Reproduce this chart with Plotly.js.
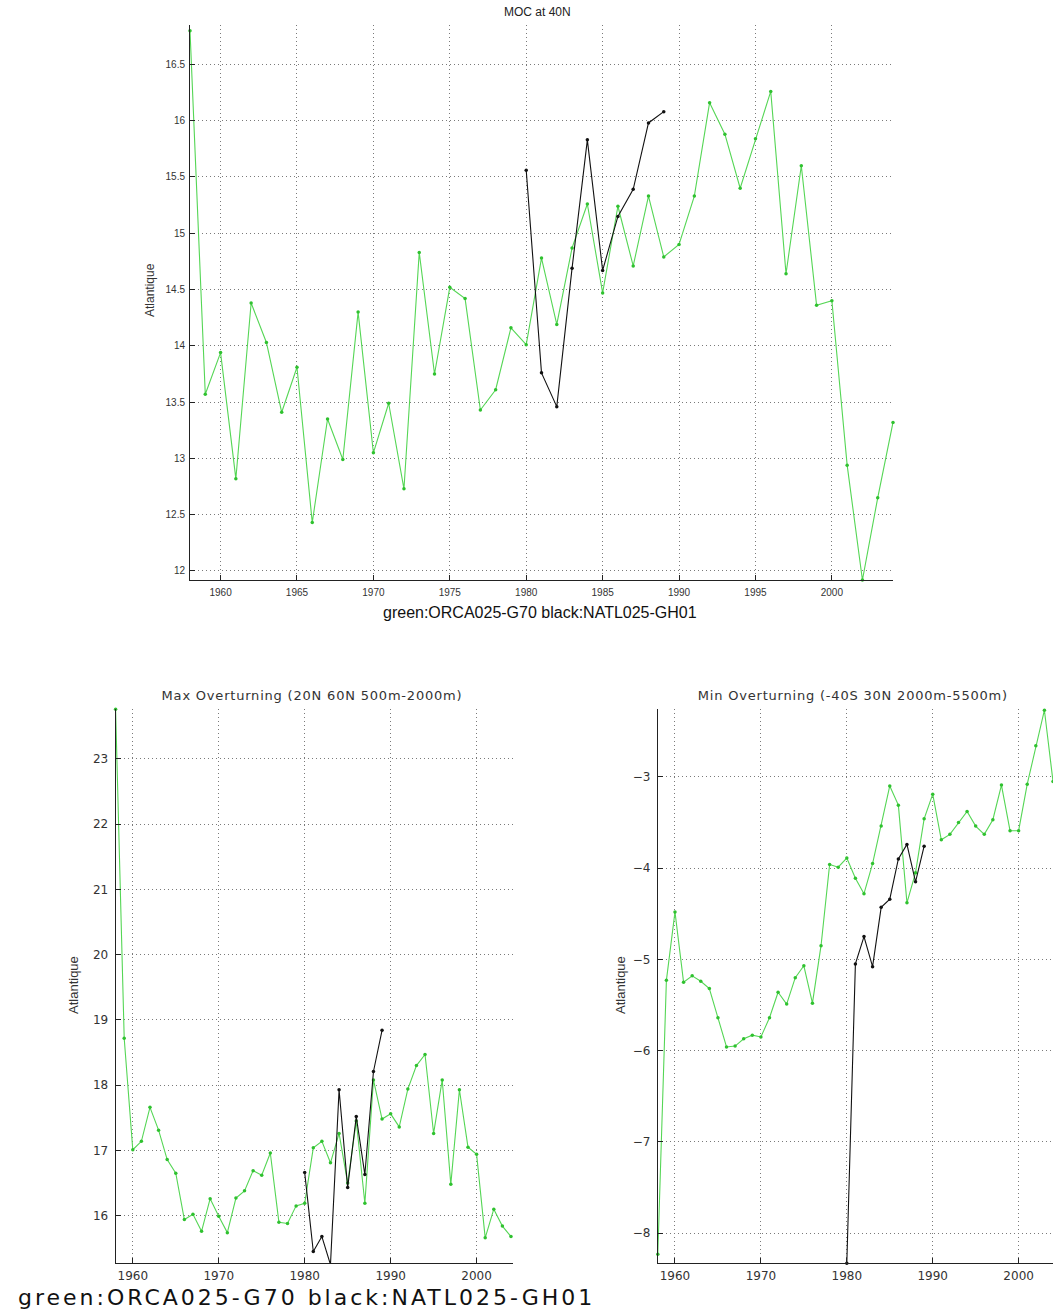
<!DOCTYPE html>
<html>
<head>
<meta charset="utf-8">
<script src="https://cdn.plot.ly/plotly-3.0.1.min.js"></script>
<style>
html,body{margin:0;padding:0;background:#fff;}
#chart{width:1053px;height:1312px;}
g.annotation[data-index="7"] text{letter-spacing:3px;}
g.annotation[data-index="3"] text, g.annotation[data-index="4"] text{letter-spacing:0.8px;}
</style>
</head>
<body>
<div id="chart"></div>
<script>
const years = [1958,1959,1960,1961,1962,1963,1964,1965,1966,1967,1968,1969,1970,1971,1972,1973,1974,1975,1976,1977,1978,1979,1980,1981,1982,1983,1984,1985,1986,1987,1988,1989,1990,1991,1992,1993,1994,1995,1996,1997,1998,1999,2000,2001,2002,2003,2004];
const natlYears = [1980,1981,1982,1983,1984,1985,1986,1987,1988,1989];

const moc40Green = [16.80,13.57,13.94,12.82,14.38,14.03,13.41,13.81,12.43,13.35,12.99,14.30,13.05,13.49,12.73,14.83,13.75,14.52,14.42,13.43,13.61,14.16,14.01,14.78,14.19,14.87,15.26,14.47,15.24,14.71,15.33,14.79,14.90,15.33,16.16,15.88,15.40,15.84,16.26,14.64,15.60,14.36,14.40,12.94,11.92,12.65,13.32];
const moc40Black = [15.56,13.76,13.46,14.69,15.83,14.67,15.15,15.39,15.98,16.08];

const maxGreen = [23.76,18.72,17.01,17.14,17.66,17.31,16.86,16.65,15.94,16.02,15.76,16.26,15.99,15.74,16.27,16.38,16.69,16.62,16.96,15.90,15.88,16.15,16.19,17.04,17.14,16.81,17.26,16.50,17.45,16.19,18.08,17.48,17.56,17.36,17.94,18.30,18.47,17.26,18.08,16.48,17.93,17.05,16.94,15.66,16.10,15.84,15.68];
const maxBlack = [16.66,15.45,15.68,15.25,17.93,16.43,17.52,16.63,18.21,18.84];

const minGreen = [-8.23,-5.23,-4.48,-5.25,-5.18,-5.24,-5.32,-5.64,-5.96,-5.95,-5.87,-5.83,-5.85,-5.64,-5.36,-5.49,-5.20,-5.07,-5.48,-4.85,-3.96,-3.99,-3.89,-4.11,-4.28,-3.95,-3.54,-3.10,-3.31,-4.38,-4.05,-3.46,-3.19,-3.69,-3.63,-3.50,-3.38,-3.54,-3.63,-3.47,-3.09,-3.59,-3.59,-3.08,-2.66,-2.27,-3.05];
const minBlack = [-8.33,-5.05,-4.75,-5.08,-4.43,-4.34,-3.90,-3.74,-4.15,-3.76];

const titles = ["MOC at 40N","Max Overturning (20N 60N 500m-2000m)","Min Overturning (-40S 30N 2000m-5500m)"];
const xLabel = "green:ORCA025-G70 black:NATL025-GH01";
const yLabel = "Atlantique";

const GREEN = '#55d655', GREEN_M = '#2fc12f', BLACK = '#111111';
function tr(x, y, color, mcolor, xa, ya) {
  return {x: x, y: y, xaxis: xa, yaxis: ya, type: 'scatter', mode: 'lines+markers',
    line: {color: color, width: 1.1}, marker: {color: mcolor, size: 3.5, symbol: 'circle'},
    cliponaxis: false, showlegend: false, hoverinfo: 'skip'};
}
const data = [
  tr(years, moc40Green, GREEN, GREEN_M, 'x', 'y'),
  tr(natlYears, moc40Black, BLACK, BLACK, 'x', 'y'),
  tr(years, maxGreen, GREEN, GREEN_M, 'x2', 'y2'),
  tr(natlYears, maxBlack, BLACK, BLACK, 'x2', 'y2'),
  tr(years, minGreen, GREEN, GREEN_M, 'x3', 'y3'),
  tr(natlYears, minBlack, BLACK, BLACK, 'x3', 'y3')
];

function ax(extra, font) {
  return Object.assign({
    showline: true, linecolor: '#222', linewidth: 1, mirror: false,
    ticks: 'inside', ticklen: 5, tickcolor: '#222', tickwidth: 1,
    showgrid: true, gridcolor: '#7a7a7a', griddash: '1px,3px', gridwidth: 1,
    zeroline: false, tickfont: font, fixedrange: true
  }, extra);
}
const W = 1053, H = 1312;
const fTop = {family: 'Liberation Sans, Arial, sans-serif', size: 10, color: '#333'};
const fBot = {family: 'DejaVu Sans, sans-serif', size: 12, color: '#333'};

const layout = {
  width: W, height: H, margin: {l: 0, r: 0, t: 0, b: 0},
  paper_bgcolor: '#fff', plot_bgcolor: '#fff',
  xaxis: ax({domain: [190/W, 893/W], range: [1958, 2004], dtick: 5, tick0: 1960, anchor: 'y', ticklabelstandoff: 3}, fTop),
  yaxis: ax({domain: [1-580/H, 1-25/H], range: [11.92, 16.85], dtick: 0.5, tick0: 12, anchor: 'x', ticklabelstandoff: 2}, fTop),
  xaxis2: ax({domain: [115.6/W, 512.7/W], range: [1958, 2004.2], dtick: 10, tick0: 1960, anchor: 'y2', ticklabelstandoff: 1}, fBot),
  yaxis2: ax({domain: [1-1263.3/H, 1-709.3/H], range: [15.27, 23.76], dtick: 1, tick0: 16, anchor: 'x2', ticklabelstandoff: 4}, fBot),
  xaxis3: ax({domain: [657.8/W, 1], range: [1958, 2004], dtick: 10, tick0: 1960, anchor: 'y3', ticklabelstandoff: 1}, fBot),
  yaxis3: ax({domain: [1-1263.3/H, 1-709.3/H], range: [-8.33, -2.26], dtick: 1, tick0: -8, anchor: 'x3', ticklabelstandoff: 4}, fBot),
  annotations: [
    {text: titles[0], x: 537/W, y: 1-12/H, xref: 'paper', yref: 'paper', showarrow: false, xanchor: 'center', yanchor: 'middle',
      font: {family: 'Liberation Sans, Arial, sans-serif', size: 12, color: '#222'}},
    {text: xLabel, x: 540/W, y: 1-612/H, xref: 'paper', yref: 'paper', showarrow: false, xanchor: 'center', yanchor: 'middle',
      font: {family: 'Liberation Sans, Arial, sans-serif', size: 16, color: '#111'}},
    {text: yLabel, x: 150/W, y: 1-290/H, xref: 'paper', yref: 'paper', showarrow: false, textangle: -90, xanchor: 'center', yanchor: 'middle',
      font: {family: 'Liberation Sans, Arial, sans-serif', size: 12, color: '#333'}},
    {text: titles[1], x: 312/W, y: 1-695/H, xref: 'paper', yref: 'paper', showarrow: false, xanchor: 'center', yanchor: 'middle',
      font: {family: 'DejaVu Sans, sans-serif', size: 13, color: '#333'}},
    {text: titles[2], x: 853/W, y: 1-695/H, xref: 'paper', yref: 'paper', showarrow: false, xanchor: 'center', yanchor: 'middle',
      font: {family: 'DejaVu Sans, sans-serif', size: 13, color: '#333'}},
    {text: yLabel, x: 73/W, y: 1-985/H, xref: 'paper', yref: 'paper', showarrow: false, textangle: -90, xanchor: 'center', yanchor: 'middle',
      font: {family: 'Liberation Sans, Arial, sans-serif', size: 13, color: '#333'}},
    {text: yLabel, x: 620/W, y: 1-985/H, xref: 'paper', yref: 'paper', showarrow: false, textangle: -90, xanchor: 'center', yanchor: 'middle',
      font: {family: 'Liberation Sans, Arial, sans-serif', size: 13, color: '#333'}},
    {text: xLabel, x: 306/W, y: 1-1297/H, xref: 'paper', yref: 'paper', showarrow: false, xanchor: 'center', yanchor: 'middle',
      font: {family: 'DejaVu Sans, sans-serif', size: 22, color: '#111'}}
  ]
};
Plotly.newPlot('chart', data, layout, {staticPlot: true, displayModeBar: false});
</script>
</body>
</html>
